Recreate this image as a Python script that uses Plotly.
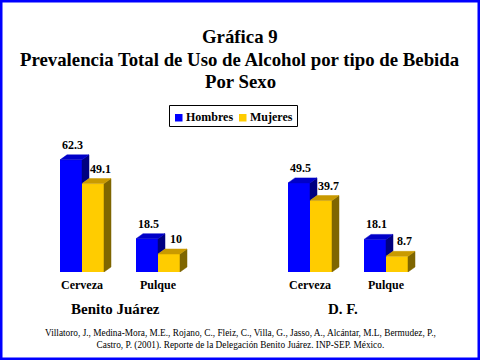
import plotly.graph_objects as go

# ---- data ----
groups = ["Benito Juárez", "D. F."]
categories = ["Cerveza", "Pulque", "Cerveza", "Pulque"]
positions = [0, 1, 3, 4]
group_centers = [0.5, 3.5]
hombres = [62.3, 18.5, 49.5, 18.1]
mujeres = [49.1, 10.0, 39.7, 8.7]
series_names = ["Hombres", "Mujeres"]

title_lines = ["Gráfica 9",
               "Prevalencia Total de Uso de Alcohol por tipo de Bebida",
               "Por Sexo"]
citation = ("Villatoro, J., Medina-Mora, M.E., Rojano, C., Fleiz, C., Villa, G., Jasso, A., Alcántar, M.L, Bermudez, P.,<br>"
            "Castro, P. (2001). Reporte de la Delegación Benito Juárez. INP-SEP. México.")

# ---- style ----
W, H = 480, 360
BOTTOM = 88
PX_PER_UNIT_X = 76.0
PX_PER_UNIT_Y = 1.8
X0_PX = 82.0
w = 22 / PX_PER_UNIT_X
dx = 7 / PX_PER_UNIT_X
dy = 5 / PX_PER_UNIT_Y
SERIF = "Liberation Serif, Times New Roman, serif"

blue_front, blue_top, blue_side = "#0000FF", "#0000C8", "#000080"
yel_front, yel_top, yel_side = "#FFCC00", "#C99A00", "#7F6600"
series_colors = [blue_front, yel_front]

fig = go.Figure()
fig.add_trace(go.Bar(x=positions, y=hombres, width=w, offset=-w, name=series_names[0],
                     marker=dict(color=blue_front, line=dict(width=0)), showlegend=False))
fig.add_trace(go.Bar(x=positions, y=mujeres, width=w, offset=0, name=series_names[1],
                     marker=dict(color=yel_front, line=dict(width=0)), showlegend=False))


def poly_trace(polys, color):
    xs, ys = [], []
    for p in polys:
        for (a, b) in p + [p[0]]:
            xs.append(a)
            ys.append(b)
        xs.append(None)
        ys.append(None)
    return go.Scatter(x=xs, y=ys, mode="lines", fill="toself", fillcolor=color,
                      line=dict(color=color, width=0.5), showlegend=False,
                      hoverinfo="skip")


b_top, b_side, y_top, y_side = [], [], [], []
for c, h1, h2 in zip(positions, hombres, mujeres):
    xl, xr = c - w, c
    b_top.append([(xl, h1), (xr, h1), (xr + dx, h1 + dy), (xl + dx, h1 + dy)])
    b_side.append([(xr, min(h1, h2)), (xr + dx, min(h1, h2) + dy), (xr + dx, h1 + dy), (xr, h1)])
    y_top.append([(xr, h2), (xr + w, h2), (xr + w + dx, h2 + dy), (xr + dx, h2 + dy)])
    y_side.append([(xr + w, 0), (xr + w + dx, dy), (xr + w + dx, h2 + dy), (xr + w, h2)])

fig.add_trace(poly_trace(b_side, blue_side))
fig.add_trace(poly_trace(b_top, blue_top))
fig.add_trace(poly_trace(y_side, yel_side))
fig.add_trace(poly_trace(y_top, yel_top))

annotations = []
shapes = []
# value labels
for c, h1, h2 in zip(positions, hombres, mujeres):
    annotations.append(dict(x=c - w / 2, y=h1, xref="x", yref="y", text=f"{h1:g}",
                            showarrow=False, yanchor="middle", yshift=15, xshift=1,
                            font=dict(family=SERIF, size=12, color="black", weight="bold")))
    annotations.append(dict(x=c + w / 2, y=h2, xref="x", yref="y", text=f"{h2:g}",
                            showarrow=False, yanchor="middle", yshift=15, xshift=7,
                            font=dict(family=SERIF, size=12, color="black", weight="bold")))

plot_h = H - BOTTOM


def py(pix):
    return (plot_h - pix) / plot_h


def px(pix):
    return pix / W


# group labels
for gname, gc in zip(groups, group_centers):
    annotations.append(dict(x=gc, y=py(309), xref="x", yref="paper", text=gname,
                            showarrow=False, yanchor="middle", xshift=-5,
                            font=dict(family=SERIF, size=15, color="black", weight="bold")))
# title
for txt, pix in zip(title_lines, [37, 59, 81]):
    annotations.append(dict(x=0.5, y=py(pix), xref="paper", yref="paper", text=txt,
                            showarrow=False, yanchor="middle", xanchor="center",
                            font=dict(family=SERIF, size=18.8, color="black", weight="bold")))
# citation
annotations.append(dict(x=0.5, y=py(339), xref="paper", yref="paper", text=citation,
                        showarrow=False, yanchor="middle", xanchor="center",
                        font=dict(family=SERIF, size=9.3, color="black")))

# custom legend (box, swatches, labels)
shapes.append(dict(type="rect", xref="paper", yref="paper",
                   x0=px(169.5), x1=px(297.5), y0=py(126.5), y1=py(105.5),
                   line=dict(color="black", width=1), fillcolor="white", layer="below"))
for name, col, sx in zip(series_names, series_colors, [175, 239]):
    shapes.append(dict(type="rect", xref="paper", yref="paper",
                       x0=px(sx), x1=px(sx + 7.5), y0=py(121.5), y1=py(114),
                       line=dict(width=0), fillcolor=col))
    annotations.append(dict(x=px(sx + 9), y=py(117), xref="paper", yref="paper", text=name,
                            showarrow=False, xanchor="left", yanchor="middle",
                            font=dict(family=SERIF, size=12, color="black", weight="bold")))

# outer frame
shapes.append(dict(type="rect", xref="paper", yref="paper",
                   x0=px(1.25), x1=px(W - 1.25), y0=py(H - 1.25), y1=py(1.25),
                   line=dict(color="#0000FF", width=2.5), fillcolor="rgba(0,0,0,0)"))

xr0 = -X0_PX / PX_PER_UNIT_X
xr1 = (W - X0_PX) / PX_PER_UNIT_X

fig.update_layout(
    width=W, height=H, autosize=False,
    margin=dict(l=0, r=0, t=0, b=BOTTOM, pad=0),
    paper_bgcolor="white", plot_bgcolor="rgba(0,0,0,0)",
    barmode="overlay",
    showlegend=False,
    xaxis=dict(range=[xr0, xr1], tickvals=positions, ticktext=categories,
               showgrid=False, zeroline=False, showline=False, ticks="",
               ticklabelstandoff=4,
               tickfont=dict(family=SERIF, size=12, color="black", weight="bold"),
               fixedrange=True),
    yaxis=dict(range=[0, plot_h / PX_PER_UNIT_Y], visible=False, showgrid=False,
               zeroline=False, fixedrange=True),
    annotations=annotations,
    shapes=shapes,
    hovermode=False,
)

fig.write_html("out.html", config={"displayModeBar": False, "staticPlot": True},
               post_script="document.body.style.margin='0';")
